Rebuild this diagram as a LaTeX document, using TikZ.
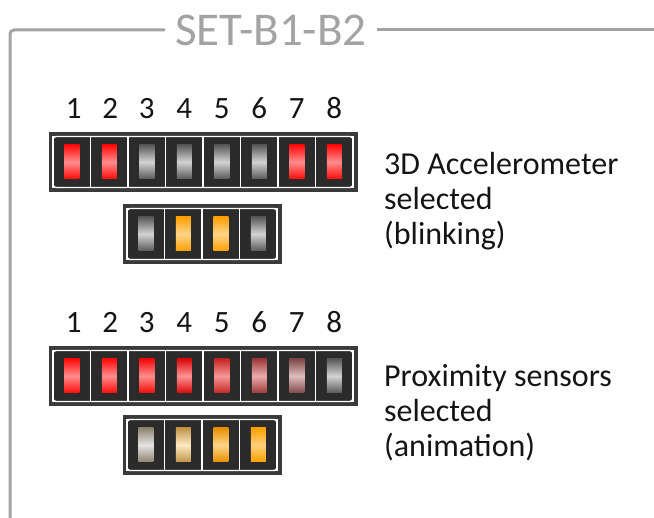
\documentclass[tikz,border=0pt]{standalone}
\usepackage{fontspec}
\setmainfont{Carlito}
\usetikzlibrary{positioning,fit,backgrounds}
\definecolor{FrameGrey}{HTML}{A3A3A3}
\definecolor{BankBackground}{HTML}{3A3A3A}
\definecolor{CellBackground}{HTML}{2B2B2B}
\definecolor{LedOffEnd}{HTML}{5A5A5A}
\definecolor{LedOffMid}{HTML}{D2D2D2}
\definecolor{LedRedEnd}{HTML}{FF0A0A}
\definecolor{LedRedMid}{HTML}{FF8C8C}
\definecolor{LedOrangeEnd}{HTML}{FFA000}
\definecolor{LedOrangeMid}{HTML}{FFD488}
\tikzstyle{SwitchCell}=[rectangle,fill=CellBackground,draw=white,line width=1.2pt,minimum width=37.5pt,minimum height=51pt,inner sep=0pt,outer sep=0pt]
\tikzstyle{SwitchNumber}=[font=\fontsize{31}{31}\selectfont,text=black!92,inner sep=0pt]
\tikzstyle{BankFrame}=[draw=white,line width=1.4pt,rounded corners=3pt,inner sep=0pt]
\tikzstyle{BankBox}=[fill=BankBackground,inner sep=4.5pt]
\tikzstyle{Caption}=[align=left,anchor=west,font=\fontsize{32}{35}\selectfont,text=black!92,inner sep=0pt]
\tikzset{
LedBar/.style 2 args={rectangle,draw=none,minimum width=15pt,minimum height=34pt,inner sep=0pt,
  top color=#1,bottom color=#1,middle color=#2}
}

\begin{document}
\begin{tikzpicture}[x=1pt,y=1pt]
  \useasboundingbox (0,0) rectangle (654,518);

  % frame and title
  \node[font=\fontsize{47}{47}\selectfont,text=FrameGrey,inner xsep=10pt,inner ysep=0pt](Title) at (271,488){SET-B1-B2};
  \coordinate (FrameBottom) at (10,-6);
  \coordinate (FrameEnd) at (660,488);
  \draw[FrameGrey,line width=3pt,rounded corners=4pt](Title.west) -| (FrameBottom);
  \draw[FrameGrey,line width=3pt](Title.east) -- (FrameEnd);

  % 3D accelerometer, eight switches
  \node[SwitchCell](A1) at (71.75,356){};
  \node[SwitchCell,right=0pt of A1](A2){};
  \node[SwitchCell,right=0pt of A2](A3){};
  \node[SwitchCell,right=0pt of A3](A4){};
  \node[SwitchCell,right=0pt of A4](A5){};
  \node[SwitchCell,right=0pt of A5](A6){};
  \node[SwitchCell,right=0pt of A6](A7){};
  \node[SwitchCell,right=0pt of A7](A8){};
  \node[BankFrame,fit=(A1)(A8)](BankAFrame){};
  \begin{scope}[on background layer]
    \node[BankBox,fit=(A1)(A8)](BankA){};
  \end{scope}
  \node[LedBar={LedRedEnd}{LedRedMid}](A1Led) at (A1){};
  \node[LedBar={LedRedEnd}{LedRedMid}](A2Led) at (A2){};
  \node[LedBar={LedOffEnd}{LedOffMid}](A3Led) at (A3){};
  \node[LedBar={LedOffEnd}{LedOffMid}](A4Led) at (A4){};
  \node[LedBar={LedOffEnd}{LedOffMid}](A5Led) at (A5){};
  \node[LedBar={LedOffEnd}{LedOffMid}](A6Led) at (A6){};
  \node[LedBar={LedRedEnd}{LedRedMid}](A7Led) at (A7){};
  \node[LedBar={LedRedEnd}{LedRedMid}](A8Led) at (A8){};
  \node[SwitchNumber,above=17.5pt of A1,xshift=2pt](A1Num){1};
  \node[SwitchNumber,above=17.5pt of A2,xshift=1pt](A2Num){2};
  \node[SwitchNumber,above=17.5pt of A3](A3Num){3};
  \node[SwitchNumber,above=17.5pt of A4](A4Num){4};
  \node[SwitchNumber,above=17.5pt of A5](A5Num){5};
  \node[SwitchNumber,above=17.5pt of A6](A6Num){6};
  \node[SwitchNumber,above=17.5pt of A7](A7Num){7};
  \node[SwitchNumber,above=17.5pt of A8](A8Num){8};

  % 3D accelerometer, four switches
  \node[SwitchCell](B1) at (145.75,284){};
  \node[SwitchCell,right=0pt of B1](B2){};
  \node[SwitchCell,right=0pt of B2](B3){};
  \node[SwitchCell,right=0pt of B3](B4){};
  \node[BankFrame,fit=(B1)(B4)](BankBFrame){};
  \begin{scope}[on background layer]
    \node[BankBox,fit=(B1)(B4)](BankB){};
  \end{scope}
  \node[LedBar={LedOffEnd}{LedOffMid}](B1Led) at (B1){};
  \node[LedBar={LedOrangeEnd}{LedOrangeMid}](B2Led) at (B2){};
  \node[LedBar={LedOrangeEnd}{LedOrangeMid}](B3Led) at (B3){};
  \node[LedBar={LedOffEnd}{LedOffMid}](B4Led) at (B4){};

  \node[Caption](AccelCaption) at (384,317){3D Accelerometer\\selected\\(blinking)};

  % proximity sensors, eight switches
  \node[SwitchCell](C1) at (71.75,142){};
  \node[SwitchCell,right=0pt of C1](C2){};
  \node[SwitchCell,right=0pt of C2](C3){};
  \node[SwitchCell,right=0pt of C3](C4){};
  \node[SwitchCell,right=0pt of C4](C5){};
  \node[SwitchCell,right=0pt of C5](C6){};
  \node[SwitchCell,right=0pt of C6](C7){};
  \node[SwitchCell,right=0pt of C7](C8){};
  \node[BankFrame,fit=(C1)(C8)](BankCFrame){};
  \begin{scope}[on background layer]
    \node[BankBox,fit=(C1)(C8)](BankC){};
  \end{scope}
  \node[LedBar={LedRedEnd}{LedRedMid}](C1Led) at (C1){};
  \node[LedBar={LedRedEnd}{LedRedMid}](C2Led) at (C2){};
  \node[LedBar={LedRedEnd!95!black}{LedRedMid}](C3Led) at (C3){};
  \node[LedBar={LedRedEnd!85!black}{LedRedMid!95!white}](C4Led) at (C4){};
  \node[LedBar={LedRedEnd!65!LedOffEnd}{LedRedMid!85!LedOffMid}](C5Led) at (C5){};
  \node[LedBar={LedRedEnd!40!LedOffEnd}{LedRedMid!55!LedOffMid}](C6Led) at (C6){};
  \node[LedBar={LedRedEnd!22!LedOffEnd}{LedRedMid!30!LedOffMid}](C7Led) at (C7){};
  \node[LedBar={LedOffEnd}{LedOffMid}](C8Led) at (C8){};
  \node[SwitchNumber,above=17.5pt of C1,xshift=2pt](C1Num){1};
  \node[SwitchNumber,above=17.5pt of C2,xshift=1pt](C2Num){2};
  \node[SwitchNumber,above=17.5pt of C3](C3Num){3};
  \node[SwitchNumber,above=17.5pt of C4](C4Num){4};
  \node[SwitchNumber,above=17.5pt of C5](C5Num){5};
  \node[SwitchNumber,above=17.5pt of C6](C6Num){6};
  \node[SwitchNumber,above=17.5pt of C7](C7Num){7};
  \node[SwitchNumber,above=17.5pt of C8](C8Num){8};

  % proximity sensors, four switches
  \node[SwitchCell](D1) at (145.75,73){};
  \node[SwitchCell,right=0pt of D1](D2){};
  \node[SwitchCell,right=0pt of D2](D3){};
  \node[SwitchCell,right=0pt of D3](D4){};
  \node[BankFrame,fit=(D1)(D4)](BankDFrame){};
  \begin{scope}[on background layer]
    \node[BankBox,fit=(D1)(D4)](BankD){};
  \end{scope}
  \node[LedBar={LedOrangeEnd!15!LedOffEnd!80!white}{LedOffMid!60!white}](D1Led) at (D1){};
  \node[LedBar={LedOrangeEnd!55!LedOffEnd!85!white}{LedOrangeMid!50!white}](D2Led) at (D2){};
  \node[LedBar={LedOrangeEnd!90!black}{LedOrangeMid}](D3Led) at (D3){};
  \node[LedBar={LedOrangeEnd}{LedOrangeMid!90!LedOrangeEnd}](D4Led) at (D4){};

  \node[Caption](ProxCaption) at (384,105){Proximity sensors\\selected\\(animation)};

\end{tikzpicture}
\end{document}
